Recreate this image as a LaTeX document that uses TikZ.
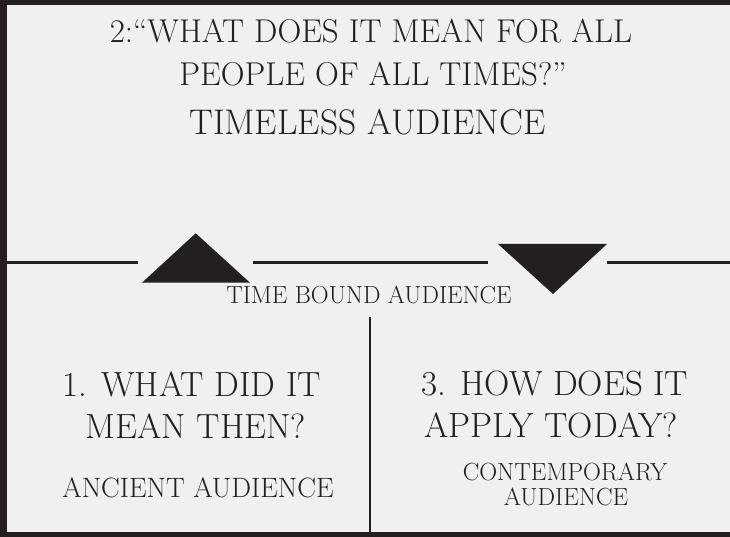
\documentclass[tikz,border=0pt]{standalone}
\definecolor{ink}{RGB}{35,31,32}
\definecolor{paper}{RGB}{240,240,238}
\newcommand{\sizedtext}[2]{\fontsize{#1}{#1}\selectfont #2}
\begin{document}
\begin{tikzpicture}
[x=1pt,y=1pt,%
 framestyle/.style={fill=ink},%
 rulestyle/.style={draw=ink,line width=2.5pt},%
 dividerstyle/.style={draw=ink,line width=2pt},%
 markstyle/.style={fill=ink},%
 labelstyle/.style={text=ink,anchor=base,inner sep=0pt}]
%% paper and frame
\fill[paper] (0,0) rectangle (730,537);
\useasboundingbox (0,0) rectangle (730,537);
\fill[framestyle] (0,532) rectangle (730,537);
\fill[framestyle] (0,0) rectangle (7,537);
\fill[framestyle] (0,0) rectangle (730,4.5);
%% timeless audience
\node[labelstyle] (titleA) at (371,494) {\sizedtext{33}{2:``WHAT DOES IT MEAN FOR ALL}};
\node[labelstyle] (titleB) at (373,451) {\sizedtext{33}{PEOPLE OF ALL TIMES?''}};
\node[labelstyle] (timeless) at (367.5,402.7) {\sizedtext{35.6}{TIMELESS AUDIENCE}};
%% time bound line with the two triangles
\coordinate (lineL) at (7,274.3);
\coordinate (lineR) at (730,274.3);
\coordinate (upL) at (142,254.3);
\coordinate (upR) at (250,254.3);
\coordinate (upTop) at (195.7,303.7);
\coordinate (downL) at (498,293);
\coordinate (downR) at (607,293);
\coordinate (downTip) at (553,243);
\draw[rulestyle] (lineL) -- (137.5,274.3);
\draw[rulestyle] (253,274.3) -- (487.5,274.3);
\draw[rulestyle] (607,274.3) -- (lineR);
\fill[markstyle] (upL) -- (upR) -- (upTop) -- cycle;
\fill[markstyle] (downL) -- (downR) -- (downTip) -- cycle;
\node[labelstyle] (timebound) at (369,233) {\sizedtext{24.7}{TIME BOUND AUDIENCE}};
%% divider between then and today
\coordinate (divTop) at (370,220.3);
\coordinate (divBot) at (370,4.5);
\draw[dividerstyle] (divTop) -- (divBot);
%% ancient audience
\node[labelstyle] (thenA) at (191.7,140.3) {\sizedtext{35}{1. WHAT DID IT}};
\node[labelstyle] (thenB) at (195.8,98.7) {\sizedtext{35}{MEAN THEN?}};
\node[labelstyle] (ancient) at (198,39.7) {\sizedtext{28}{ANCIENT AUDIENCE}};
%% contemporary audience
\node[labelstyle] (todayA) at (555,141) {\sizedtext{35}{3. HOW DOES IT}};
\node[labelstyle] (todayB) at (551,99.7) {\sizedtext{35}{APPLY TODAY?}};
\node[labelstyle] (contempA) at (565,56.3) {\sizedtext{24.8}{CONTEMPORARY}};
\node[labelstyle] (contempB) at (566,31.3) {\sizedtext{24.8}{AUDIENCE}};
\end{tikzpicture}
\end{document}
